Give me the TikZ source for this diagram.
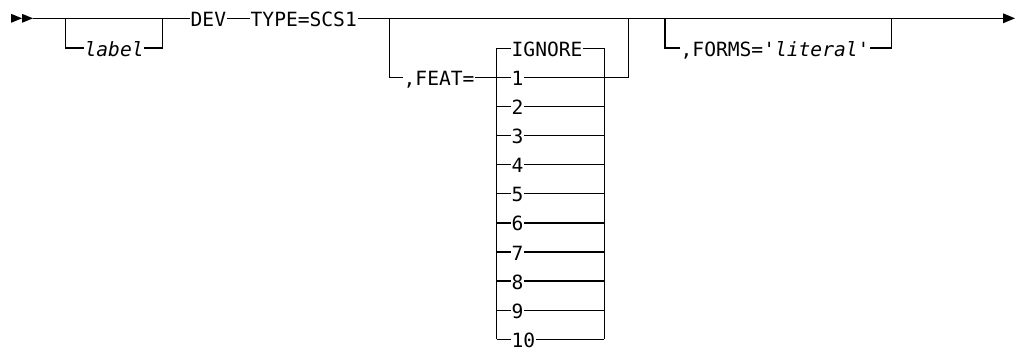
\documentclass[tikz,border=0pt]{standalone}
\usepackage{fontspec}
\setmonofont{DejaVu Sans Mono}
\begin{document}
\begin{tikzpicture}[x=1pt,y=-1pt,line width=1.3pt,
  txt/.style={inner xsep=0pt,inner ysep=0pt,text height=16pt,text depth=0pt,anchor=west,
    font=\fontsize{19.6}{20}\selectfont\ttfamily},
  rail/.style={draw=black,line width=1.3pt},
  tip/.style={fill=black,draw=none}]
\useasboundingbox (0,0) rectangle (1020,351);
% start and end markers
\fill[tip] (11,13.8) -- (22,18.3) -- (11,22.8) -- cycle;
\fill[tip] (22,13.8) -- (33,18.3) -- (22,22.8) -- cycle;
\coordinate (start) at (33,18.3);
\coordinate (end) at (1003,18.3);
\fill[tip] (1003,13.3) -- (1015,18.3) -- (1003,23.3) -- cycle;
% nodes
\node[txt] (label) at (84,48) {\itshape label};
\node[txt] (dev) at (190,18.3) {DEV};
\node[txt] (type) at (250,18.3) {TYPE=SCS1};
\node[txt] (feat) at (403,77.4) {,FEAT=};
\node[txt] (o0) at (511,48.3) {IGNORE};
\foreach \k in {1,...,10}{
  \node[txt] (o\k) at (511,48.3+29.1*\k) {\k};
}
\node[txt] (forms) at (680,48) {,FORMS='\textit{literal}'};
% branch coordinates
\coordinate (lbA) at (65.7,18.3);
\coordinate (lbB) at (162.3,18.3);
\coordinate (fA) at (389.3,18.3);
\coordinate (fB) at (628.3,18.3);
\coordinate (iL) at (496.7,48.3);
\coordinate (iR) at (604.3,48.3);
\coordinate (gA) at (665,18.3);
\coordinate (gB) at (891.7,18.3);
% main line
\draw[rail] (start) -- (dev.west);
\draw[rail] (dev.east) -- (type.west);
\draw[rail] (type.east) -- (end);
% label branch
\draw[rail] (lbA) |- (label.west);
\draw[rail] (label.east) -| (lbB);
% FEAT branch
\draw[rail] (fA) |- (feat.west);
\draw[rail] (feat.east) -- (iL |- feat.east);
\draw[rail] (iL) -- (iL |- o10.west);
\draw[rail] (iR) -- (iR |- o10.east);
\foreach \k in {0,...,10}{
  \draw[rail] (iL |- o\k.west) -- (o\k.west);
}
\foreach \k in {0,2,3,4,5,6,7,8,9,10}{
  \draw[rail] (o\k.east) -- (iR |- o\k.east);
}
\draw[rail] (o1.east) -| (fB);
% FORMS branch
\draw[rail] (gA) |- (forms.west);
\draw[rail] (forms.east) -| (gB);
\end{tikzpicture}
\end{document}
